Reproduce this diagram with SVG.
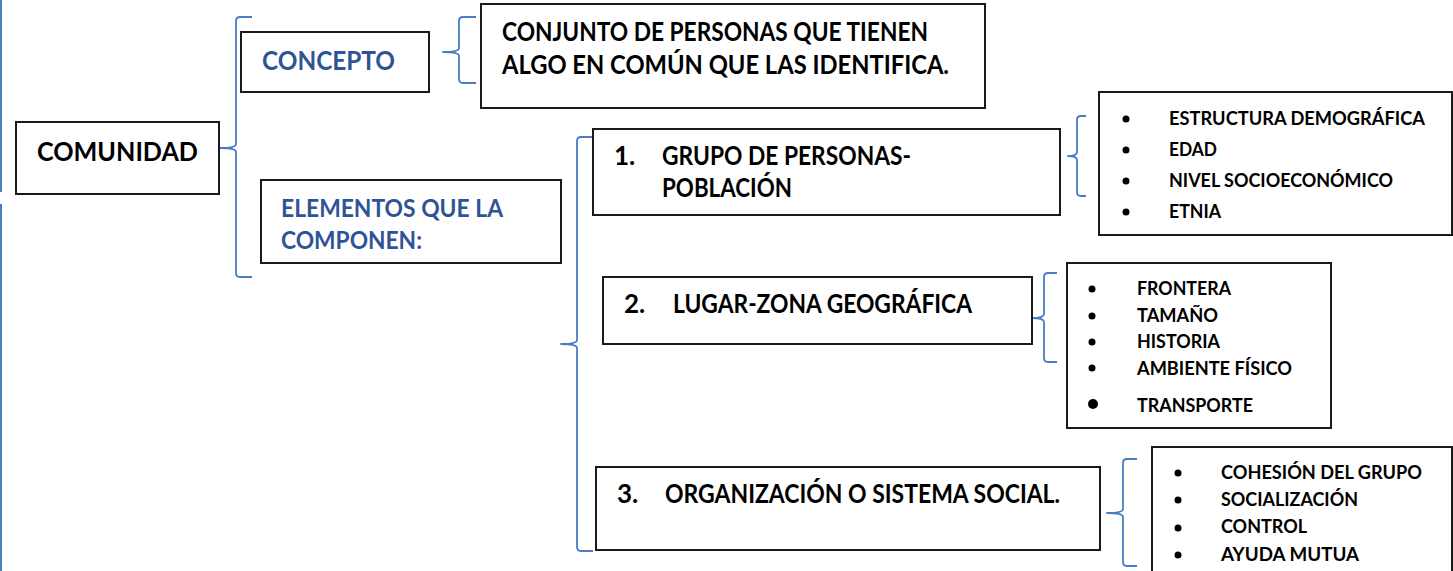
<svg xmlns="http://www.w3.org/2000/svg" width="1453" height="571" viewBox="0 0 1453 571">
<style>
.box{fill:#fff;stroke:#1a1a1a;stroke-width:2}
.br{fill:none;stroke:#4a7cc4;stroke-width:1.8;stroke-linejoin:round}
.t{font-family:Lato,"Open Sans","Liberation Sans",sans-serif;font-weight:bold;fill:#000}
.big{font-size:26px}
.blue{fill:#2f5496}
.li{font-size:18.5px}
.dot{fill:#000}
</style>
<rect width="1453" height="571" fill="#fff"/>
<g id="edge">
<line x1="1" y1="0" x2="1" y2="192" stroke="#4a7cc4" stroke-width="2"/>
<line x1="1" y1="204" x2="1" y2="571" stroke="#4a7cc4" stroke-width="2"/>
</g>
<g id="connectors">
<path class="br" d="M252,17 L240,17 Q236,17 236,21 L236,144 Q236,148 220,148 Q236,148 236,152 L236,273 Q236,277 240,277 L252,277"/>
<path class="br" d="M476,17 L463,17 Q459,17 459,21 L459,48 Q459,52 443,52 Q459,52 459,56 L459,79 Q459,83 463,83 L476,83"/>
<path class="br" d="M593,137 L581,137 Q577,137 577,141 L577,340 Q577,344 561,344 Q577,344 577,348 L577,547 Q577,551 581,551 L593,551"/>
<path class="br" d="M1086,116 L1081,116 Q1077,116 1077,120 L1077,152 Q1077,156 1068,156 Q1077,156 1077,160 L1077,192 Q1077,196 1081,196 L1086,196"/>
<path class="br" d="M1057,273 L1048,273 Q1044,273 1044,277 L1044,314 Q1044,318 1032,318 Q1044,318 1044,322 L1044,358 Q1044,362 1048,362 L1057,362"/>
<path class="br" d="M1137,459 L1127,459 Q1123,459 1123,463 L1123,509 Q1123,513 1107,513 Q1123,513 1123,517 L1123,562 Q1123,566 1127,566 L1137,566"/>
</g>
<g id="comunidad">
<rect class="box" x="16" y="122" width="203" height="72"/>
<text class="t" x="37" y="161" font-size="27" textLength="161" lengthAdjust="spacingAndGlyphs">COMUNIDAD</text>
</g>
<g id="concepto">
<rect class="box" x="241" y="32" width="188" height="60"/>
<text class="t big blue" x="262" y="70" textLength="133" lengthAdjust="spacingAndGlyphs">CONCEPTO</text>
</g>
<g id="definicion">
<rect class="box" x="481" y="4" width="504" height="104"/>
<text class="t big" x="502" y="41" textLength="426" lengthAdjust="spacingAndGlyphs">CONJUNTO DE PERSONAS QUE TIENEN</text>
<text class="t big" x="502" y="74" textLength="447" lengthAdjust="spacingAndGlyphs">ALGO EN COMÚN QUE LAS IDENTIFICA.</text>
</g>
<g id="elementos">
<rect class="box" x="261" y="180" width="300" height="83"/>
<text class="t blue" x="281" y="217" font-size="24.5" textLength="222" lengthAdjust="spacingAndGlyphs">ELEMENTOS QUE LA</text>
<text class="t blue" x="281" y="249" font-size="24.5" textLength="141" lengthAdjust="spacingAndGlyphs">COMPONEN:</text>
</g>
<g id="grupo">
<rect class="box" x="593" y="129" width="467" height="86"/>
<text class="t big" x="614" y="165">1.</text>
<text class="t big" x="662" y="165" textLength="249" lengthAdjust="spacingAndGlyphs">GRUPO DE PERSONAS-</text>
<text class="t big" x="662" y="197" textLength="130" lengthAdjust="spacingAndGlyphs">POBLACIÓN</text>
</g>
<g id="lugar">
<rect class="box" x="603" y="277" width="429" height="67"/>
<text class="t big" x="624" y="313">2.</text>
<text class="t big" x="673" y="313" textLength="299" lengthAdjust="spacingAndGlyphs">LUGAR-ZONA GEOGRÁFICA</text>
</g>
<g id="organizacion">
<rect class="box" x="596" y="467" width="504" height="83"/>
<text class="t big" x="617" y="503">3.</text>
<text class="t big" x="665" y="503" textLength="395" lengthAdjust="spacingAndGlyphs">ORGANIZACIÓN O SISTEMA SOCIAL.</text>
</g>
<g id="lista-poblacion">
<rect class="box" x="1099" y="92" width="353" height="143"/>
<circle class="dot" cx="1126" cy="119" r="3.5"/>
<circle class="dot" cx="1126" cy="150" r="3.5"/>
<circle class="dot" cx="1126" cy="181" r="3.5"/>
<circle class="dot" cx="1126" cy="212" r="3.5"/>
<text class="t li" x="1169" y="125" textLength="256" lengthAdjust="spacingAndGlyphs">ESTRUCTURA DEMOGRÁFICA</text>
<text class="t li" x="1169" y="156" textLength="48" lengthAdjust="spacingAndGlyphs">EDAD</text>
<text class="t li" x="1169" y="187" textLength="224" lengthAdjust="spacingAndGlyphs">NIVEL SOCIOECONÓMICO</text>
<text class="t li" x="1169" y="218" textLength="52" lengthAdjust="spacingAndGlyphs">ETNIA</text>
</g>
<g id="lista-lugar">
<rect class="box" x="1067" y="263" width="264" height="165"/>
<circle class="dot" cx="1092" cy="289" r="3.5"/>
<circle class="dot" cx="1092" cy="316" r="3.5"/>
<circle class="dot" cx="1092" cy="342" r="3.5"/>
<circle class="dot" cx="1092" cy="368" r="3.5"/>
<circle class="dot" cx="1093" cy="404" r="5"/>
<text class="t li" x="1137" y="295" textLength="94" lengthAdjust="spacingAndGlyphs">FRONTERA</text>
<text class="t li" x="1137" y="322" textLength="81" lengthAdjust="spacingAndGlyphs">TAMAÑO</text>
<text class="t li" x="1137" y="348" textLength="83" lengthAdjust="spacingAndGlyphs">HISTORIA</text>
<text class="t li" x="1137" y="375" textLength="155" lengthAdjust="spacingAndGlyphs">AMBIENTE FÍSICO</text>
<text class="t li" x="1137" y="412" textLength="116" lengthAdjust="spacingAndGlyphs">TRANSPORTE</text>
</g>
<g id="lista-organizacion">
<rect class="box" x="1152" y="447" width="300" height="140"/>
<circle class="dot" cx="1178" cy="473" r="3.5"/>
<circle class="dot" cx="1178" cy="500" r="3.5"/>
<circle class="dot" cx="1178" cy="528" r="3.5"/>
<circle class="dot" cx="1178" cy="555" r="3.5"/>
<text class="t li" x="1221" y="479" textLength="201" lengthAdjust="spacingAndGlyphs">COHESIÓN DEL GRUPO</text>
<text class="t li" x="1221" y="506" textLength="137" lengthAdjust="spacingAndGlyphs">SOCIALIZACIÓN</text>
<text class="t li" x="1221" y="533" textLength="86" lengthAdjust="spacingAndGlyphs">CONTROL</text>
<text class="t li" x="1221" y="561" textLength="138" lengthAdjust="spacingAndGlyphs">AYUDA MUTUA</text>
</g>
</svg>
